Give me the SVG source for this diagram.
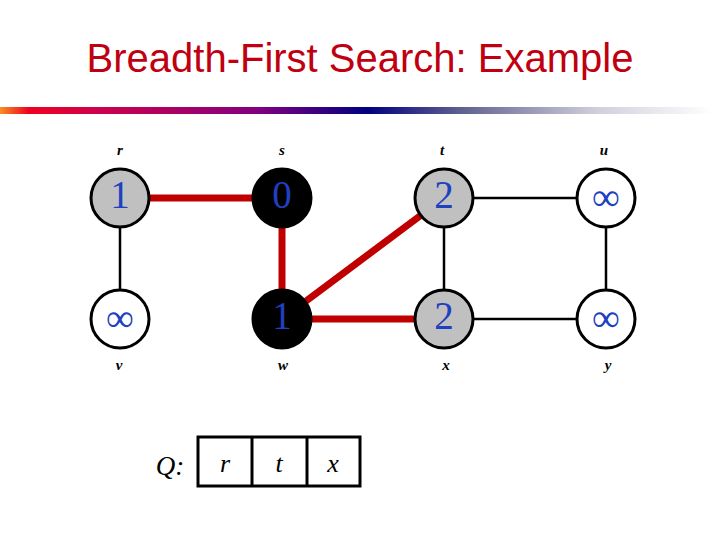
<svg xmlns="http://www.w3.org/2000/svg" width="720" height="540" viewBox="0 0 720 540">
<style>
.title{font-family:"Liberation Sans",Arial,sans-serif;font-size:40px;fill:#c00010}
.lbl{font-family:"Liberation Serif","Times New Roman",serif;font-style:italic;font-weight:bold;font-size:15px;fill:#000;text-anchor:middle}
.num{font-family:"Liberation Serif","Times New Roman",serif;font-size:39px;fill:#2040c0;text-anchor:middle}
.node{stroke:#000;stroke-width:3}
.white{fill:#fff}.gray{fill:#c0c0c0}.black{fill:#000}
.tree{stroke:#c00000;stroke-width:7;fill:none}
.edge{stroke:#000;stroke-width:2.5;fill:none}
.q{font-family:"Liberation Serif","Times New Roman",serif;font-style:italic;font-size:27px;fill:#000;text-anchor:middle}
.qb{font-size:26px}
</style>
<defs>
<linearGradient id="bar" x1="0" y1="0" x2="1" y2="0">
<stop offset="0" stop-color="#f89020"/>
<stop offset="0.04" stop-color="#f00020"/>
<stop offset="0.13" stop-color="#d0004a"/>
<stop offset="0.36" stop-color="#800080"/>
<stop offset="0.51" stop-color="#000080"/>
<stop offset="0.64" stop-color="#606090"/>
<stop offset="0.83" stop-color="#d0d0dc"/>
<stop offset="0.99" stop-color="#ffffff"/>
</linearGradient>
</defs>
<rect width="720" height="540" fill="#fff"/>
<text class="title" x="360" y="72" text-anchor="middle">Breadth-First Search: Example</text>
<rect x="0" y="107" width="720" height="7" fill="url(#bar)"/>
<g id="connectors">
<line class="tree" x1="120" y1="198" x2="282" y2="198"/>
<line class="tree" x1="282" y1="198" x2="282" y2="319"/>
<line class="tree" x1="282" y1="319" x2="444" y2="198"/>
<line class="tree" x1="282" y1="319" x2="444" y2="319"/>
<line class="edge" x1="120" y1="198" x2="120" y2="319"/>
<line class="edge" x1="444" y1="198" x2="606" y2="198"/>
<line class="edge" x1="444" y1="198" x2="444" y2="319"/>
<line class="edge" x1="606" y1="198" x2="606" y2="319"/>
<line class="edge" x1="444" y1="319" x2="606" y2="319"/>
</g>
<g id="node-r"><circle class="node gray" cx="120" cy="198" r="29"/><text class="num" x="120" y="208">1</text><text class="lbl" x="120" y="155">r</text></g>
<g id="node-s"><circle class="node black" cx="282" cy="198" r="29"/><text class="num" x="282" y="208">0</text><text class="lbl" x="282" y="155">s</text></g>
<g id="node-t"><circle class="node gray" cx="444" cy="198" r="29"/><text class="num" x="444" y="208">2</text><text class="lbl" x="442" y="155">t</text></g>
<g id="node-u"><circle class="node white" cx="606" cy="198" r="29"/><text class="num" x="606" y="210">∞</text><text class="lbl" x="604" y="155">u</text></g>
<g id="node-v"><circle class="node white" cx="120" cy="319" r="29"/><text class="num" x="120" y="331">∞</text><text class="lbl" x="119" y="370">v</text></g>
<g id="node-w"><circle class="node black" cx="282" cy="319" r="29"/><text class="num" x="282" y="329">1</text><text class="lbl" x="283" y="370">w</text></g>
<g id="node-x"><circle class="node gray" cx="444" cy="319" r="29"/><text class="num" x="444" y="329">2</text><text class="lbl" x="446" y="370">x</text></g>
<g id="node-y"><circle class="node white" cx="606" cy="319" r="29"/><text class="num" x="606" y="331">∞</text><text class="lbl" x="608" y="370">y</text></g>
<g id="queue">
<text class="q" x="170" y="475">Q:</text>
<rect x="198" y="437" width="162" height="49" fill="#fff" stroke="#000" stroke-width="3"/>
<line x1="252" y1="437" x2="252" y2="486" stroke="#000" stroke-width="3"/>
<line x1="307" y1="437" x2="307" y2="486" stroke="#000" stroke-width="3"/>
<text class="q qb" x="225" y="472">r</text>
<text class="q qb" x="279" y="472">t</text>
<text class="q qb" x="333" y="472">x</text>
</g>
</svg>
